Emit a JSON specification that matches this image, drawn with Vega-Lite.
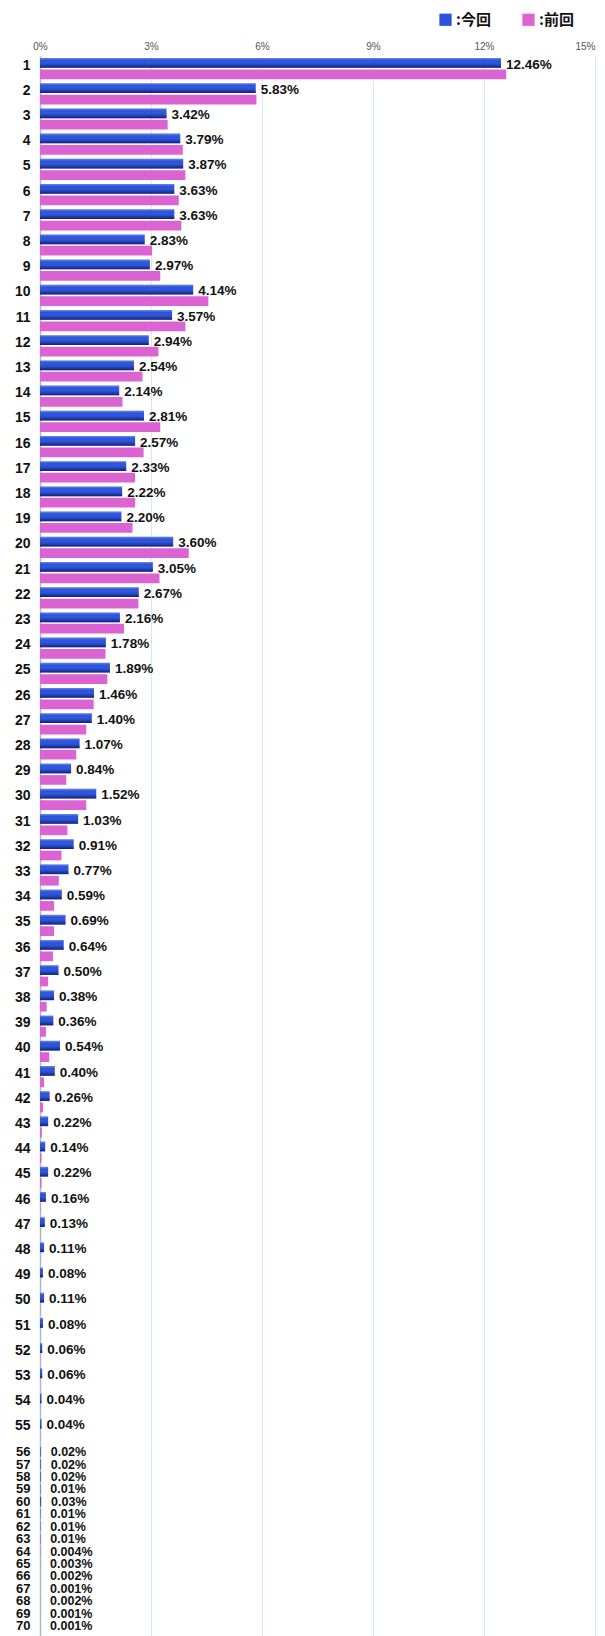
{
  "$schema": "https://vega.github.io/schema/vega-lite/v6.json",
  "background": "white",
  "padding": {"left": 14, "top": 12, "right": 8, "bottom": 4},
  "spacing": 0,
  "config": {"view": {"stroke": null}, "font": "Liberation Sans"},
  "resolve": {"scale": {"y": "independent"}},
  "datasets": {
    "bars": [
      {"rank":1,"series":"今回","value":12.46,"label":"12.46%"},{"rank":1,"series":"前回","value":12.6},
      {"rank":2,"series":"今回","value":5.83,"label":"5.83%"},{"rank":2,"series":"前回","value":5.85},
      {"rank":3,"series":"今回","value":3.42,"label":"3.42%"},{"rank":3,"series":"前回","value":3.45},
      {"rank":4,"series":"今回","value":3.79,"label":"3.79%"},{"rank":4,"series":"前回","value":3.86},
      {"rank":5,"series":"今回","value":3.87,"label":"3.87%"},{"rank":5,"series":"前回","value":3.93},
      {"rank":6,"series":"今回","value":3.63,"label":"3.63%"},{"rank":6,"series":"前回","value":3.75},
      {"rank":7,"series":"今回","value":3.63,"label":"3.63%"},{"rank":7,"series":"前回","value":3.82},
      {"rank":8,"series":"今回","value":2.83,"label":"2.83%"},{"rank":8,"series":"前回","value":3.03},
      {"rank":9,"series":"今回","value":2.97,"label":"2.97%"},{"rank":9,"series":"前回","value":3.25},
      {"rank":10,"series":"今回","value":4.14,"label":"4.14%"},{"rank":10,"series":"前回","value":4.55},
      {"rank":11,"series":"今回","value":3.57,"label":"3.57%"},{"rank":11,"series":"前回","value":3.93},
      {"rank":12,"series":"今回","value":2.94,"label":"2.94%"},{"rank":12,"series":"前回","value":3.2},
      {"rank":13,"series":"今回","value":2.54,"label":"2.54%"},{"rank":13,"series":"前回","value":2.77},
      {"rank":14,"series":"今回","value":2.14,"label":"2.14%"},{"rank":14,"series":"前回","value":2.23},
      {"rank":15,"series":"今回","value":2.81,"label":"2.81%"},{"rank":15,"series":"前回","value":3.25},
      {"rank":16,"series":"今回","value":2.57,"label":"2.57%"},{"rank":16,"series":"前回","value":2.8},
      {"rank":17,"series":"今回","value":2.33,"label":"2.33%"},{"rank":17,"series":"前回","value":2.57},
      {"rank":18,"series":"今回","value":2.22,"label":"2.22%"},{"rank":18,"series":"前回","value":2.57},
      {"rank":19,"series":"今回","value":2.2,"label":"2.20%"},{"rank":19,"series":"前回","value":2.5},
      {"rank":20,"series":"今回","value":3.6,"label":"3.60%"},{"rank":20,"series":"前回","value":4.02},
      {"rank":21,"series":"今回","value":3.05,"label":"3.05%"},{"rank":21,"series":"前回","value":3.23},
      {"rank":22,"series":"今回","value":2.67,"label":"2.67%"},{"rank":22,"series":"前回","value":2.66},
      {"rank":23,"series":"今回","value":2.16,"label":"2.16%"},{"rank":23,"series":"前回","value":2.27},
      {"rank":24,"series":"今回","value":1.78,"label":"1.78%"},{"rank":24,"series":"前回","value":1.77},
      {"rank":25,"series":"今回","value":1.89,"label":"1.89%"},{"rank":25,"series":"前回","value":1.82},
      {"rank":26,"series":"今回","value":1.46,"label":"1.46%"},{"rank":26,"series":"前回","value":1.45},
      {"rank":27,"series":"今回","value":1.4,"label":"1.40%"},{"rank":27,"series":"前回","value":1.25},
      {"rank":28,"series":"今回","value":1.07,"label":"1.07%"},{"rank":28,"series":"前回","value":0.98},
      {"rank":29,"series":"今回","value":0.84,"label":"0.84%"},{"rank":29,"series":"前回","value":0.71},
      {"rank":30,"series":"今回","value":1.52,"label":"1.52%"},{"rank":30,"series":"前回","value":1.25},
      {"rank":31,"series":"今回","value":1.03,"label":"1.03%"},{"rank":31,"series":"前回","value":0.74},
      {"rank":32,"series":"今回","value":0.91,"label":"0.91%"},{"rank":32,"series":"前回","value":0.58},
      {"rank":33,"series":"今回","value":0.77,"label":"0.77%"},{"rank":33,"series":"前回","value":0.51},
      {"rank":34,"series":"今回","value":0.59,"label":"0.59%"},{"rank":34,"series":"前回","value":0.38},
      {"rank":35,"series":"今回","value":0.69,"label":"0.69%"},{"rank":35,"series":"前回","value":0.38},
      {"rank":36,"series":"今回","value":0.64,"label":"0.64%"},{"rank":36,"series":"前回","value":0.35},
      {"rank":37,"series":"今回","value":0.5,"label":"0.50%"},{"rank":37,"series":"前回","value":0.22},
      {"rank":38,"series":"今回","value":0.38,"label":"0.38%"},{"rank":38,"series":"前回","value":0.18},
      {"rank":39,"series":"今回","value":0.36,"label":"0.36%"},{"rank":39,"series":"前回","value":0.16},
      {"rank":40,"series":"今回","value":0.54,"label":"0.54%"},{"rank":40,"series":"前回","value":0.25},
      {"rank":41,"series":"今回","value":0.4,"label":"0.40%"},{"rank":41,"series":"前回","value":0.11},
      {"rank":42,"series":"今回","value":0.26,"label":"0.26%"},{"rank":42,"series":"前回","value":0.08},
      {"rank":43,"series":"今回","value":0.22,"label":"0.22%"},{"rank":43,"series":"前回","value":0.05},
      {"rank":44,"series":"今回","value":0.14,"label":"0.14%"},{"rank":44,"series":"前回","value":0.04},
      {"rank":45,"series":"今回","value":0.22,"label":"0.22%"},{"rank":45,"series":"前回","value":0.04},
      {"rank":46,"series":"今回","value":0.16,"label":"0.16%"},{"rank":46,"series":"前回","value":0.01},
      {"rank":47,"series":"今回","value":0.13,"label":"0.13%"},{"rank":47,"series":"前回","value":0.005},
      {"rank":48,"series":"今回","value":0.11,"label":"0.11%"},{"rank":48,"series":"前回","value":0.005},
      {"rank":49,"series":"今回","value":0.08,"label":"0.08%"},{"rank":49,"series":"前回","value":0.005},
      {"rank":50,"series":"今回","value":0.11,"label":"0.11%"},{"rank":50,"series":"前回","value":0.005},
      {"rank":51,"series":"今回","value":0.08,"label":"0.08%"},{"rank":51,"series":"前回","value":0.005},
      {"rank":52,"series":"今回","value":0.06,"label":"0.06%"},{"rank":52,"series":"前回","value":0.003},
      {"rank":53,"series":"今回","value":0.06,"label":"0.06%"},{"rank":53,"series":"前回","value":0.003},
      {"rank":54,"series":"今回","value":0.04,"label":"0.04%"},{"rank":54,"series":"前回","value":0.003},
      {"rank":55,"series":"今回","value":0.04,"label":"0.04%"},{"rank":55,"series":"前回","value":0.003},
      {"rank":56,"series":"今回","value":0.02,"label":"0.02%"},{"rank":56,"series":"前回","value":0.002},
      {"rank":57,"series":"今回","value":0.02,"label":"0.02%"},{"rank":57,"series":"前回","value":0.002},
      {"rank":58,"series":"今回","value":0.02,"label":"0.02%"},{"rank":58,"series":"前回","value":0.002},
      {"rank":59,"series":"今回","value":0.01,"label":"0.01%"},{"rank":59,"series":"前回","value":0.002},
      {"rank":60,"series":"今回","value":0.03,"label":"0.03%"},{"rank":60,"series":"前回","value":0.002},
      {"rank":61,"series":"今回","value":0.01,"label":"0.01%"},{"rank":61,"series":"前回","value":0.001},
      {"rank":62,"series":"今回","value":0.01,"label":"0.01%"},{"rank":62,"series":"前回","value":0.001},
      {"rank":63,"series":"今回","value":0.01,"label":"0.01%"},{"rank":63,"series":"前回","value":0.001},
      {"rank":64,"series":"今回","value":0.004,"label":"0.004%"},{"rank":64,"series":"前回","value":0.001},
      {"rank":65,"series":"今回","value":0.003,"label":"0.003%"},{"rank":65,"series":"前回","value":0.001},
      {"rank":66,"series":"今回","value":0.002,"label":"0.002%"},{"rank":66,"series":"前回","value":0.001},
      {"rank":67,"series":"今回","value":0.001,"label":"0.001%"},{"rank":67,"series":"前回","value":0.001},
      {"rank":68,"series":"今回","value":0.002,"label":"0.002%"},{"rank":68,"series":"前回","value":0.001},
      {"rank":69,"series":"今回","value":0.001,"label":"0.001%"},{"rank":69,"series":"前回","value":0.001},
      {"rank":70,"series":"今回","value":0.001,"label":"0.001%"},{"rank":70,"series":"前回","value":0.001}
    ]
  },
  "vconcat": [
    {
      "width": 555,
      "height": {"step": 25.2, "for": "position"},
      "data": {"name": "bars"},
      "transform": [{"filter": "datum.rank <= 55"}],
      "encoding": {
        "y": {"field": "rank", "type": "ordinal", "sort": "ascending",
          "scale": {"paddingInner": 0.16, "paddingOuter": 0.08},
          "axis": {"title": null, "ticks": false, "labelPadding": 10, "labelFontSize": 14, "labelFontWeight": "bold", "labelColor": "#111", "labelOffset": -3, "domain": true, "domainColor": "#a9bfc6", "domainWidth": 1.5}},
        "x": {"field": "value", "type": "quantitative", "scale": {"domain": [0, 15], "nice": false},
          "axis": {"orient": "top", "title": null, "values": [0, 3, 6, 9, 12, 15], "labelExpr": "datum.value + '%'", "grid": true, "gridColor": "#d4eaf0", "domain": false, "ticks": false, "labelFontSize": 10, "labelColor": "#555", "labelPadding": 5,
            "labelAlign": {"condition": {"test": "datum.value == 15", "value": "right"}, "value": "center"}}}
      },
      "layer": [
        {
          "mark": {"type": "bar"},
          "encoding": {
            "yOffset": {"field": "series", "type": "nominal", "scale": {"domain": ["今回", "前回"], "paddingInner": 0.15}},
            "color": {"field": "series", "type": "nominal",
              "scale": {"domain": ["今回", "前回"], "range": ["#2a52dc", "#dc64d2"]},
              "legend": {"orient": "none", "legendX": 398, "legendY": -44, "direction": "horizontal", "title": null, "symbolType": "square", "symbolSize": 150, "symbolStrokeWidth": 0, "labelExpr": "':' + datum.label", "labelFontSize": 15, "labelFontWeight": "bold", "labelFont": "Noto Sans CJK JP", "labelColor": "#111", "columnPadding": 30, "labelOffset": 3}}
          }
        },
        {
          "transform": [{"filter": "datum.series === '今回'"}],
          "mark": {"type": "bar", "color": {"gradient": "linear", "x1": 0, "y1": 0, "x2": 0, "y2": 1,
            "stops": [{"offset": 0, "color": "rgba(255,255,255,0.3)"}, {"offset": 0.25, "color": "rgba(255,255,255,0)"}, {"offset": 0.7, "color": "rgba(0,0,40,0.15)"}, {"offset": 1, "color": "rgba(0,0,40,0.6)"}]}},
          "encoding": {
            "yOffset": {"field": "series", "type": "nominal", "scale": {"domain": ["今回", "前回"], "paddingInner": 0.15}}
          }
        },
        {
          "transform": [{"filter": "datum.series === '今回'"}],
          "mark": {"type": "text", "align": "left", "baseline": "middle", "dx": 5, "dy": -4, "fontSize": 13.5, "fontWeight": "bold", "color": "#111"},
          "encoding": {"text": {"field": "label"}}
        }
      ]
    },
    {
      "width": 555,
      "height": {"step": 12.43, "for": "position"},
      "data": {"name": "bars"},
      "transform": [{"filter": "datum.rank > 55"}],
      "encoding": {
        "y": {"field": "rank", "type": "ordinal", "sort": "ascending",
          "scale": {"paddingInner": 0.16, "paddingOuter": 0.4},
          "axis": {"title": null, "ticks": false, "labelPadding": 10, "labelFontSize": 13, "labelFontWeight": "bold", "labelColor": "#111", "domain": true, "domainColor": "#a9bfc6", "domainWidth": 1.5}},
        "x": {"field": "value", "type": "quantitative", "scale": {"domain": [0, 15], "nice": false},
          "axis": {"orient": "top", "title": null, "values": [0, 3, 6, 9, 12, 15], "grid": true, "gridColor": "#d4eaf0", "domain": false, "ticks": false, "labels": false}}
      },
      "layer": [
        {
          "mark": {"type": "bar"},
          "encoding": {
            "yOffset": {"field": "series", "type": "nominal", "scale": {"domain": ["今回", "前回"], "paddingInner": 0.15}},
            "color": {"field": "series", "type": "nominal", "scale": {"domain": ["今回", "前回"], "range": ["#2a52dc", "#dc64d2"]}}
          }
        },
        {
          "transform": [{"filter": "datum.series === '今回'"}],
          "mark": {"type": "text", "align": "left", "baseline": "middle", "dx": 10, "fontSize": 12.5, "fontWeight": "bold", "color": "#111"},
          "encoding": {"text": {"field": "label"}}
        }
      ]
    }
  ]
}
